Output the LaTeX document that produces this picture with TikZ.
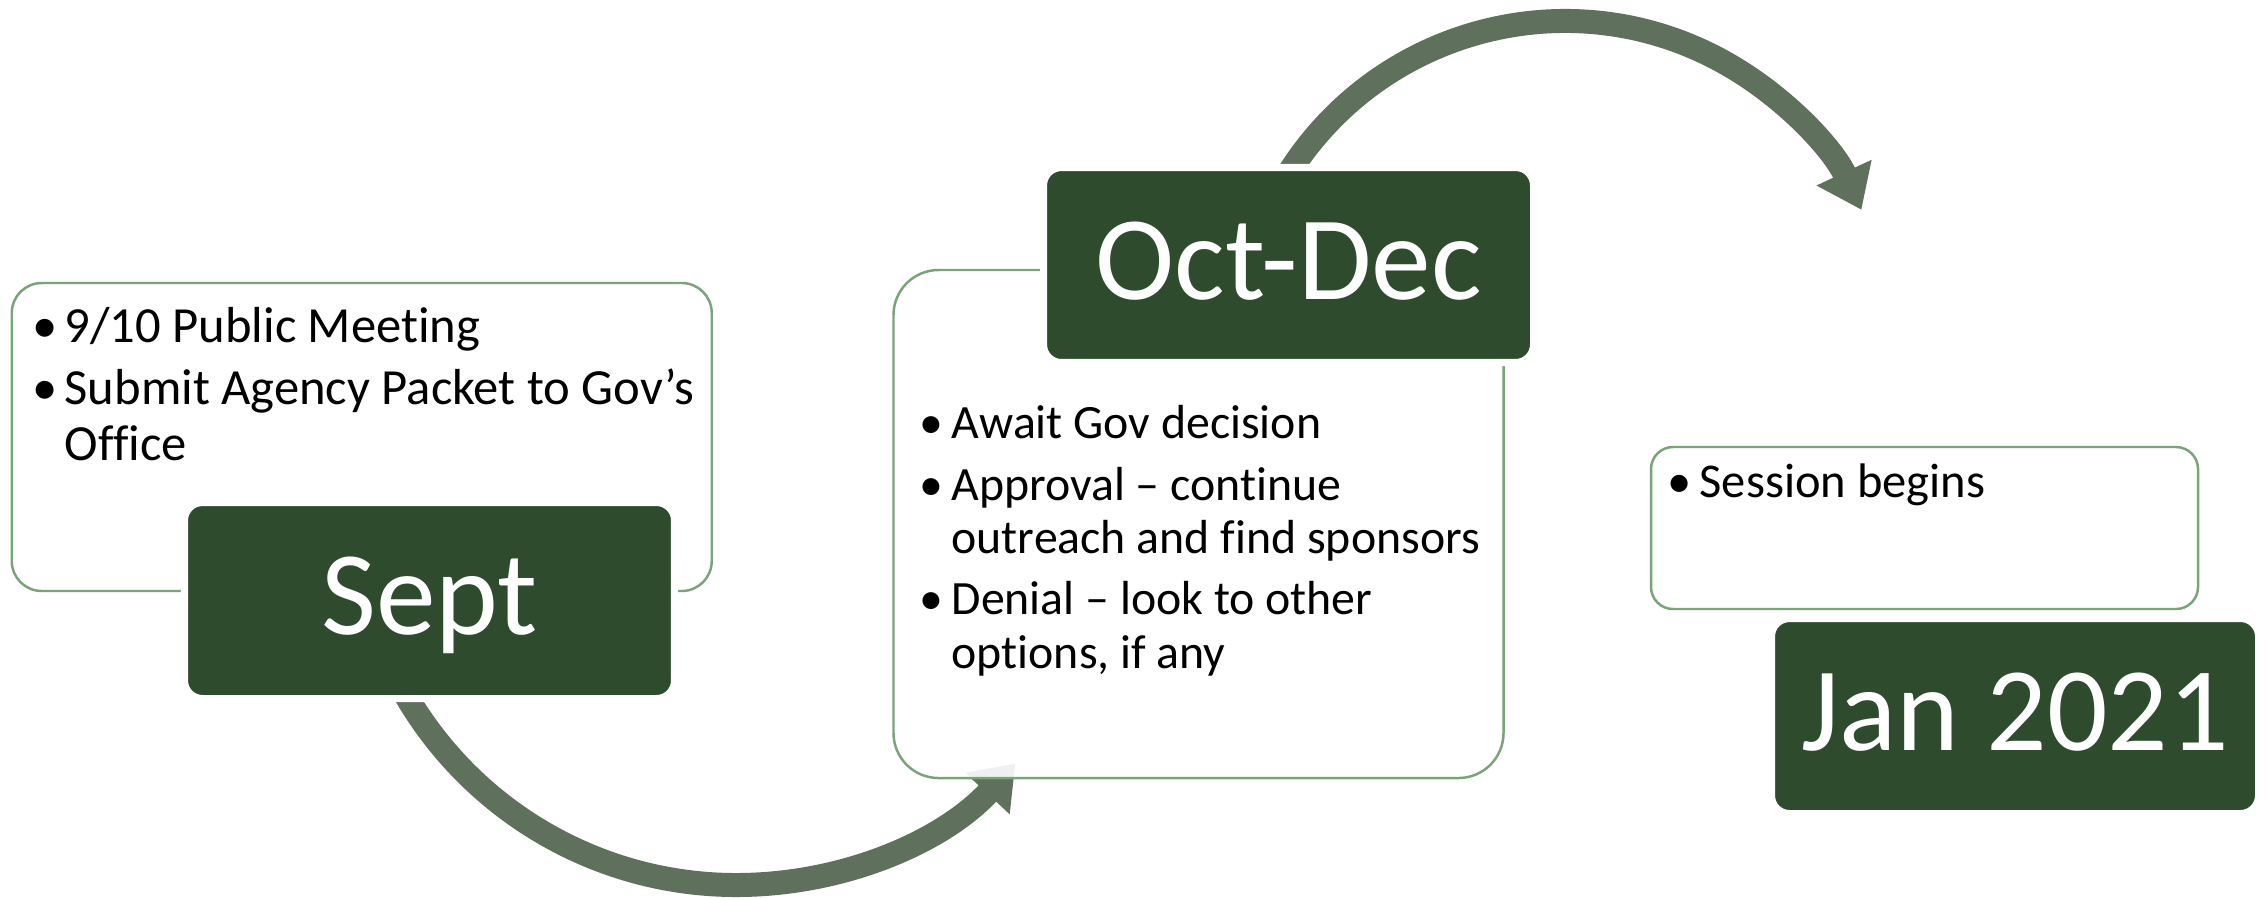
\documentclass[tikz,border=0pt]{standalone}
\usepackage{fontspec}
\setmainfont{Carlito}[Ligatures=NoCommon]
\usetikzlibrary{arrows.meta}

\definecolor{darkgreen}{RGB}{47,75,45}
\definecolor{linegreen}{RGB}{122,163,122}
\definecolor{arrowgreen}{RGB}{95,112,93}

\newcommand{\bul}{\makebox[9.1pt][l]{\textbullet}}
\newcommand{\nobul}{\hspace*{9.1pt}}

\begin{document}
\begin{tikzpicture}[
    infobox/.style={draw=linegreen, line width=0.7pt, fill=white, fill opacity=0.9},
    monthbox/.style={draw=white, line width=2pt, fill=darkgreen, text=white, rounded corners=0.18cm,
        font=\fontsize{34}{40}\selectfont, inner sep=0pt, text height=0.68cm, text depth=0cm},
    bullets/.style={align=left, inner sep=0pt, anchor=base west, font=\fontsize{14.4}{15.8}\selectfont},
    bigarrow/.style={draw=arrowgreen, line width=0.24cm, -{Triangle[length=0.41cm,width=0.58cm]}}
]

    % Fix the size of the picture
    \useasboundingbox (0,0) rectangle (22.67,-8.97);

    % Draw the curved arrows (they run behind the boxes)
    \coordinate (c1) at (7.36,-5.03);
    \coordinate (c2) at (15.65,-3.48);
    \draw[bigarrow] (c1) ++(207:3.82) arc[start angle=207, end angle=317, radius=3.82];
    \draw[bigarrow] (c2) ++(150:3.27) arc[start angle=150, end angle=25, radius=3.27];

    % Draw the text boxes
    \node[infobox, rounded corners=0.3cm, minimum width=7.0cm, minimum height=3.08cm] (septinfo) at (3.6175,-4.37) {};
    \node[infobox, rounded corners=0.45cm, minimum width=6.1cm, minimum height=5.08cm] (octinfo) at (11.985,-5.24) {};
    \node[infobox, rounded corners=0.22cm, minimum width=5.47cm, minimum height=1.62cm] (sessinfo) at (19.245,-5.28) {};

    % Write the bullet points (anchored at the last line)
    \node[bullets] (septtext) at (0.32,-4.60) {\bul 9/10 Public Meeting\\[1.8pt]\bul Submit Agency Packet to Gov’s\\\nobul Office};
    \node[bullets, font=\fontsize{13.6}{15.1}\selectfont] (octtext) at (9.19,-6.68) {\bul Await Gov decision\\[2.5pt]\bul Approval – continue\\\nobul outreach and find sponsors\\[2.5pt]\bul Denial – look to other\\\nobul options, if any};
    \node[bullets, font=\fontsize{13.8}{15.2}\selectfont] (sesstext) at (16.67,-4.97) {\bul Session begins};

    % Draw the month boxes on top
    \node[monthbox, minimum width=4.9cm, minimum height=1.96cm] (sept) at (4.295,-6.005) {Sept};
    \node[monthbox, minimum width=4.9cm, minimum height=1.95cm] (octdec) at (12.885,-2.65) {Oct-Dec};
    \node[monthbox, minimum width=4.87cm, minimum height=1.95cm] (jan) at (20.15,-7.16) {Jan 2021};

\end{tikzpicture}
\end{document}
